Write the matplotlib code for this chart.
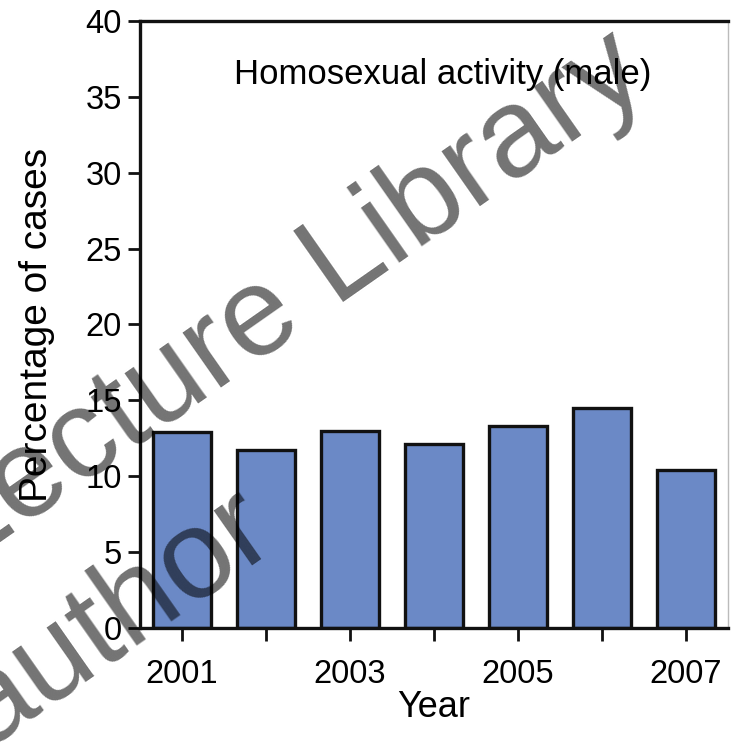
import matplotlib
matplotlib.use("Agg")
import matplotlib.pyplot as plt
import numpy as np

plt.rcParams["font.family"] = ["Liberation Sans", "DejaVu Sans"]

# percentage of cases per year
years = [2001, 2002, 2003, 2004, 2005, 2006, 2007]
percent = [12.9, 11.7, 13.0, 12.1, 13.3, 14.5, 10.4]
year_labels = ["2001", "", "2003", "", "2005", "", "2007"]
y_ticks = [0, 5, 10, 15, 20, 25, 30, 35, 40]

W, H = 732, 743
fig = plt.figure(figsize=(W / 100, H / 100), dpi=100)
ax = fig.add_axes([0.191, 0.1548, 0.803, 0.817])

ax.bar(years, percent, width=0.69, color="#6b89c6", edgecolor="#111111",
       linewidth=2.4, zorder=2)

ax.set_xlim(2000.5, 2007.5)
ax.set_ylim(0, 40)
ax.set_xticks(years)
ax.set_xticklabels(year_labels)
ax.set_yticks(y_ticks)
ax.tick_params(axis="both", direction="out", length=9, width=2,
               labelsize=23.5, color="#111111")
ax.tick_params(axis="x", pad=13)
ax.tick_params(axis="y", pad=4)

for side in ["left", "top", "bottom"]:
    ax.spines[side].set_linewidth(2.4)
    ax.spines[side].set_color("#111111")
ax.spines["right"].set_linewidth(1)
ax.spines["right"].set_color("#bbbbbb")

ax.set_xlabel("Year", fontsize=26, labelpad=0)
ax.set_ylabel("Percentage of cases", fontsize=28, labelpad=22)

ax.text(0.515, 0.911, "Homosexual activity (male)", transform=ax.transAxes,
        ha="center", va="center", fontsize=25)

# watermark overlay, anchored at the start of each baseline (pixel coords)
wm = dict(fontsize=91, color="black", alpha=0.55, rotation=35,
          ha="left", va="baseline", rotation_mode="anchor", zorder=10)
fig.text(-39 / W, 1 - 570 / H, "Lecture Library", **wm)
fig.text(-14 / W, 1 - 748 / H, "author", **wm)

fig.savefig("out.png", dpi=100)
